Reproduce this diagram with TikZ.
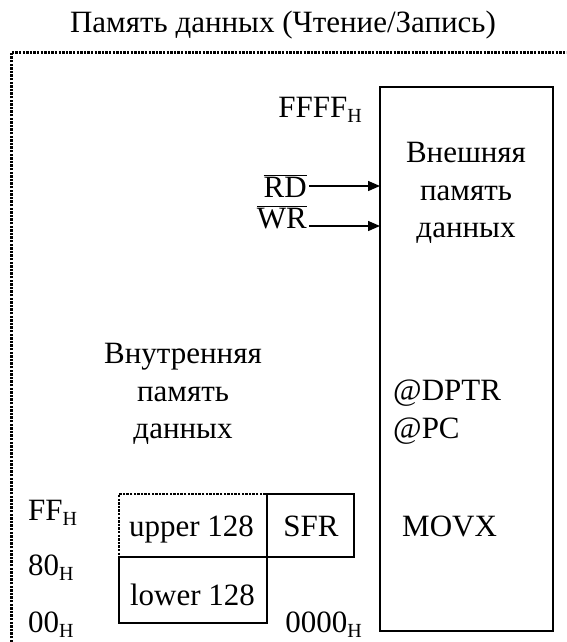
\documentclass[tikz,border=0pt]{standalone}
\usepackage{fontspec}
\setmainfont{Liberation Serif}
\usetikzlibrary{arrows.meta,positioning}
\newcommand{\hx}[1]{#1\raisebox{-5pt}{\fontsize{20}{20}\selectfont H}}
\newcommand{\negato}[1]{$\overline{\mbox{#1}}$}

\begin{document}
\begin{tikzpicture}[x=1pt,y=-1pt,
    lbl/.style={inner sep=0pt,font=\fontsize{31}{37.5}\selectfont},
    mem/.style={draw,line width=1.5pt,inner sep=0pt,outer sep=0pt},
    punt/.style={line width=2.6pt,dash pattern=on 2.4pt off 1.2pt},
    sig/.style={line width=1.4pt,-{Triangle[length=12pt,width=10pt]}}]
    \clip (0,0) rectangle (566,642);
    % Cornice tratteggiata
    \draw[punt,line width=3pt] (11,660) -- (11,52.5) -- (580,52.5);
    \node[lbl,anchor=base] (titolo) at (283,33) {Память данных (Чтение/Запись)};

    % Memoria esterna
    \node[mem,minimum width=173pt,minimum height=544pt] (ext) at (466.5,359) {};
    \node[lbl,align=center,anchor=north] (exttxt) at (466,142) {Внешняя\\память\\данных};
    \node[lbl,anchor=base east] (ffff) at (362,117) {\hx{FFFF}};
    \node[lbl,anchor=base east] (zero) at (362,632) {\hx{0000}};
    \node[lbl,align=left,anchor=north west] (addr) at (393,380) {@DPTR\\@PC};
    \node[lbl,anchor=base west] (movx) at (402,536) {MOVX};

    % Segnali RD, WR
    \node[lbl,anchor=base east] (rd) at (307,197) {\negato{RD}};
    \node[lbl,anchor=base east] (wr) at (307,228) {\negato{WR}};
    \coordinate (rdA) at ([shift={(2,-11)}]rd.base east);
    \coordinate (wrA) at ([shift={(2,-2)}]wr.base east);
    \draw[sig] (rdA) -- (rdA -| ext.west);
    \draw[sig] (wrA) -- (wrA -| ext.west);

    % Memoria interna
    \node[lbl,align=center,anchor=north] (inttxt) at (183,343) {Внутренняя\\память\\данных};
    \node[mem,punt,line width=2.2pt,minimum width=148pt,minimum height=63pt] (upper) at (193,525.5) {};
    \node[mem,minimum width=87pt,minimum height=63pt,right=0pt of upper] (sfr) {};
    \node[mem,minimum width=148pt,minimum height=66pt,below=0pt of upper] (lower) {};
    \node[lbl,anchor=base] (uppertxt) at (191.5,536) {upper 128};
    \node[lbl,anchor=base] (sfrtxt) at (311,536) {SFR};
    \node[lbl,anchor=base] (lowertxt) at (192.5,605) {lower 128};

    % Indirizzi
    \node[lbl,anchor=base west] (ff) at (28,520) {\hx{FF}};
    \node[lbl,anchor=base west] (ottanta) at (28,575) {\hx{80}};
    \node[lbl,anchor=base west] (zz) at (28,632) {\hx{00}};
\end{tikzpicture}
\end{document}
